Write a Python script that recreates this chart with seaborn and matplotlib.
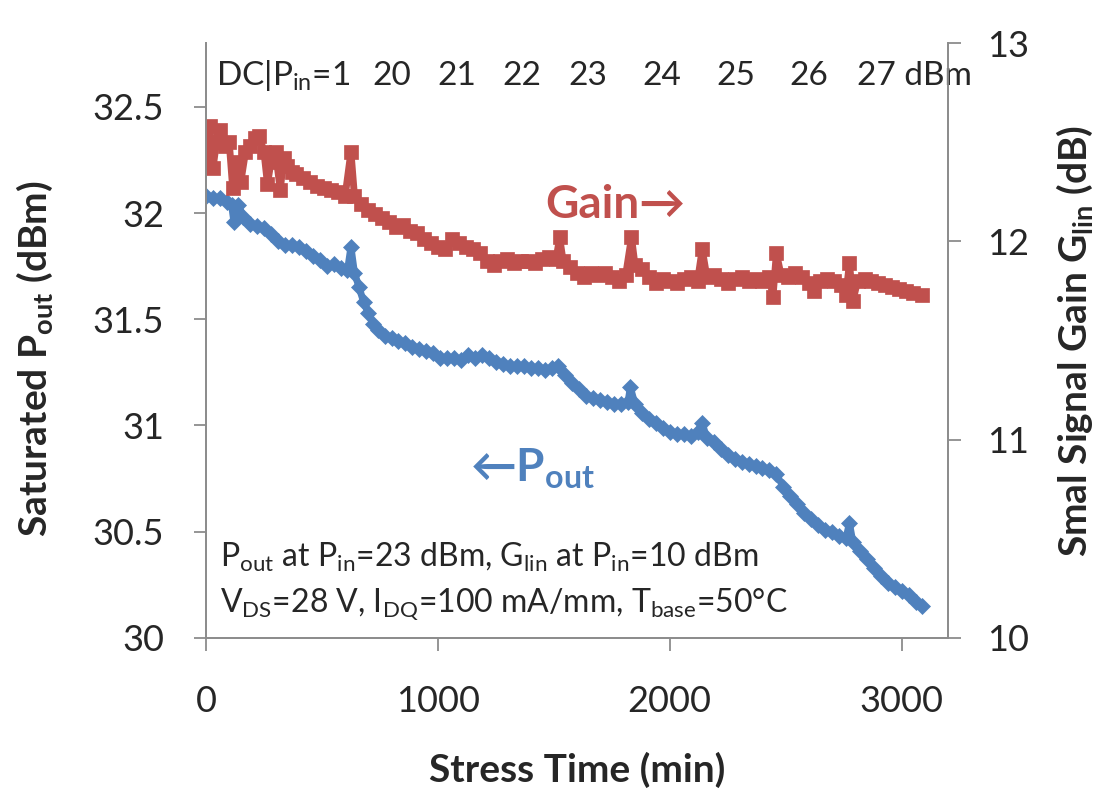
import matplotlib
matplotlib.use("Agg")
import matplotlib.pyplot as plt
import seaborn as sns

# stress time (min) and saturated output power (dBm)
pout_time = [0, 30, 60, 90, 110, 120, 140, 160, 190, 220, 250, 280, 310, 340, 370,
             400, 430, 460, 490, 520, 550, 580, 610, 625, 640, 660, 680, 700, 720,
             740, 770, 800, 830, 860, 890, 920, 950, 980, 1010, 1040, 1070, 1100,
             1130, 1160, 1190, 1220, 1250, 1280, 1310, 1340, 1370, 1400, 1430, 1460,
             1490, 1520, 1550, 1580, 1610, 1640, 1670, 1700, 1730, 1760, 1790, 1820,
             1830, 1850, 1880, 1910, 1940, 1970, 2000, 2030, 2060, 2090, 2120, 2140,
             2160, 2190, 2220, 2250, 2280, 2310, 2340, 2370, 2400, 2430, 2460, 2490,
             2520, 2550, 2580, 2610, 2640, 2670, 2700, 2730, 2760, 2775, 2790, 2820,
             2850, 2880, 2910, 2940, 2970, 3000, 3030, 3060, 3090]
pout = [32.08, 32.07, 32.07, 32.05, 32.04, 31.96, 32.04, 31.98, 31.95, 31.94, 31.93,
        31.90, 31.87, 31.85, 31.85, 31.84, 31.82, 31.80, 31.78, 31.75, 31.76, 31.74,
        31.73, 31.84, 31.72, 31.65, 31.58, 31.53, 31.48, 31.45, 31.42, 31.41, 31.40,
        31.39, 31.37, 31.36, 31.35, 31.34, 31.32, 31.32, 31.32, 31.31, 31.33, 31.32,
        31.33, 31.32, 31.30, 31.29, 31.28, 31.28, 31.28, 31.27, 31.27, 31.26, 31.27,
        31.28, 31.24, 31.20, 31.17, 31.14, 31.13, 31.12, 31.11, 31.10, 31.10, 31.11,
        31.18, 31.10, 31.06, 31.03, 31.01, 30.99, 30.97, 30.96, 30.96, 30.95, 30.97,
        31.01, 30.94, 30.92, 30.89, 30.86, 30.84, 30.83, 30.82, 30.81, 30.80, 30.79,
        30.77, 30.71, 30.67, 30.63, 30.59, 30.56, 30.53, 30.51, 30.50, 30.48, 30.47,
        30.54, 30.45, 30.41, 30.37, 30.33, 30.29, 30.26, 30.24, 30.22, 30.20, 30.17,
        30.15]

# small signal gain (dB)
gain_time = [0, 15, 30, 45, 60, 80, 100, 115, 130, 150, 170, 190, 210, 230, 250, 265,
             280, 300, 320, 335, 350, 370, 390, 420, 450, 480, 510, 540, 570, 600, 625,
             640, 670, 700, 730, 760, 790, 820, 850, 880, 910, 940, 970, 1000, 1030,
             1060, 1090, 1120, 1150, 1180, 1210, 1240, 1270, 1300, 1330, 1360, 1390,
             1420, 1450, 1480, 1510, 1525, 1540, 1570, 1600, 1630, 1660, 1690, 1720,
             1750, 1780, 1810, 1835, 1850, 1880, 1910, 1940, 1970, 2000, 2030, 2060,
             2090, 2120, 2140, 2160, 2190, 2220, 2250, 2280, 2310, 2340, 2370, 2400,
             2430, 2445, 2460, 2480, 2510, 2540, 2570, 2600, 2620, 2650, 2680, 2710,
             2740, 2760, 2775, 2790, 2810, 2840, 2870, 2900, 2930, 2960, 2990, 3020,
             3050, 3090]
gain = [12.40, 12.58, 12.37, 12.50, 12.56, 12.48, 12.50, 12.27, 12.40, 12.30, 12.45,
        12.48, 12.52, 12.53, 12.45, 12.29, 12.40, 12.45, 12.26, 12.42, 12.38, 12.35,
        12.34, 12.32, 12.30, 12.28, 12.27, 12.26, 12.25, 12.23, 12.45, 12.23, 12.19,
        12.16, 12.14, 12.12, 12.10, 12.07, 12.08, 12.05, 12.04, 12.01, 11.99, 11.97,
        11.96, 12.01, 11.99, 11.97, 11.96, 11.94, 11.90, 11.88, 11.90, 11.91, 11.89,
        11.90, 11.90, 11.89, 11.91, 11.92, 11.91, 12.02, 11.90, 11.87, 11.84, 11.82,
        11.84, 11.83, 11.84, 11.82, 11.80, 11.83, 12.02, 11.88, 11.86, 11.82, 11.79,
        11.81, 11.80, 11.79, 11.81, 11.82, 11.80, 11.96, 11.82, 11.83, 11.81, 11.79,
        11.81, 11.82, 11.80, 11.81, 11.80, 11.82, 11.72, 11.94, 11.83, 11.82, 11.84,
        11.82, 11.79, 11.75, 11.80, 11.81, 11.80, 11.78, 11.73, 11.89, 11.70, 11.80,
        11.81, 11.80, 11.79, 11.78, 11.77, 11.76, 11.75, 11.74, 11.73]

x_ticks = [0, 1000, 2000, 3000]
left_ticks = [30, 30.5, 31, 31.5, 32, 32.5]
left_labels = ["30", "30.5", "31", "31.5", "32", "32.5"]
right_ticks = [10, 11, 12, 13]

# input power steps written along the top
pin_labels = ["20", "21", "22", "23", "24", "25", "26"]
pin_pos = [802, 1082, 1362, 1645, 1966, 2284, 2599]

RED = "#C0504D"
BLUE = "#4F81BD"
GREY = "#8C8C8C"

sns.set_style("white")
plt.rcParams["font.family"] = ["Lato", "DejaVu Sans"]
plt.rcParams["mathtext.fontset"] = "custom"
plt.rcParams["mathtext.default"] = "regular"
plt.rcParams["mathtext.rm"] = "Lato"

fig = plt.figure(figsize=(11, 8.09), dpi=100)
ax = fig.add_axes([0.1873, 0.2114, 0.6745, 0.7354])
ax2 = ax.twinx()

sns.lineplot(x=pout_time, y=pout, ax=ax, color=BLUE, linewidth=5,
             marker="D", markersize=8, markeredgecolor=BLUE, markeredgewidth=0.5)
sns.lineplot(x=gain_time, y=gain, ax=ax2, color=RED, linewidth=5,
             marker="s", markersize=10, markeredgecolor=RED, markeredgewidth=0.5)

ax.set_xlim(0, 3200)
ax.set_ylim(30, 32.8)
ax2.set_ylim(10, 13)
ax.set_xticks(x_ticks)
ax.set_xticklabels([str(v) for v in x_ticks])
ax.set_yticks(left_ticks)
ax.set_yticklabels(left_labels)
ax2.set_yticks(right_ticks)
ax2.set_yticklabels([str(v) for v in right_ticks])

for a in (ax, ax2):
    a.spines["top"].set_visible(False)
    for s in ("left", "right", "bottom"):
        a.spines[s].set_color(GREY)
        a.spines[s].set_linewidth(1.3)
    a.grid(False)
ax.tick_params(axis="x", direction="out", length=9, width=1.3, color=GREY,
               labelsize=26, pad=25, bottom=True)
ax.tick_params(axis="y", direction="out", length=9, width=1.3, color=GREY,
               labelsize=26, pad=21, left=True)
ax2.tick_params(axis="y", direction="out", length=9, width=1.3, color=GREY,
                labelsize=26, pad=19, right=True)

ax.set_xlabel("Stress Time (min)", fontsize=28, fontweight="bold", va="center")
ax.xaxis.set_label_coords(0.5, -0.222)
ax.set_ylabel("Saturated P$_{out}$ (dBm)", fontsize=28, fontweight="bold", va="center")
ax.yaxis.set_label_coords(-0.23, 0.47)
ax2.set_ylabel("Smal Signal Gain G$_{lin}$ (dB)", fontsize=28, fontweight="bold",
               rotation=90, va="center")
ax2.yaxis.set_label_coords(1.171, 0.5)

# top row of input power steps
trans = ax.get_xaxis_transform()
ax.text(45, 0.929, "DC|P$_{in}$=1", transform=trans, fontsize=24, va="baseline")
for lab, pos in zip(pin_labels, pin_pos):
    ax.text(pos, 0.929, lab, transform=trans, fontsize=24, va="baseline", ha="center")
ax.text(2806, 0.929, "27 dBm", transform=trans, fontsize=24, va="baseline")

ax.text(0.457, 0.706, "Gain\u2192", transform=ax.transAxes, fontsize=33,
        fontweight="bold", color=RED, va="baseline")
ax.text(0.356, 0.262, "\u2190P$_{out}$", transform=ax.transAxes, fontsize=33,
        fontweight="bold", color=BLUE, va="baseline")

ax.text(0.019, 0.119, "P$_{out}$ at P$_{in}$=23 dBm, G$_{lin}$ at P$_{in}$=10 dBm",
        transform=ax.transAxes, fontsize=23, va="baseline")
ax.text(0.019, 0.044, "V$_{DS}$=28 V, I$_{DQ}$=100 mA/mm, T$_{base}$=50\u00b0C",
        transform=ax.transAxes, fontsize=23, va="baseline")

fig.savefig("out.png", dpi=100)
